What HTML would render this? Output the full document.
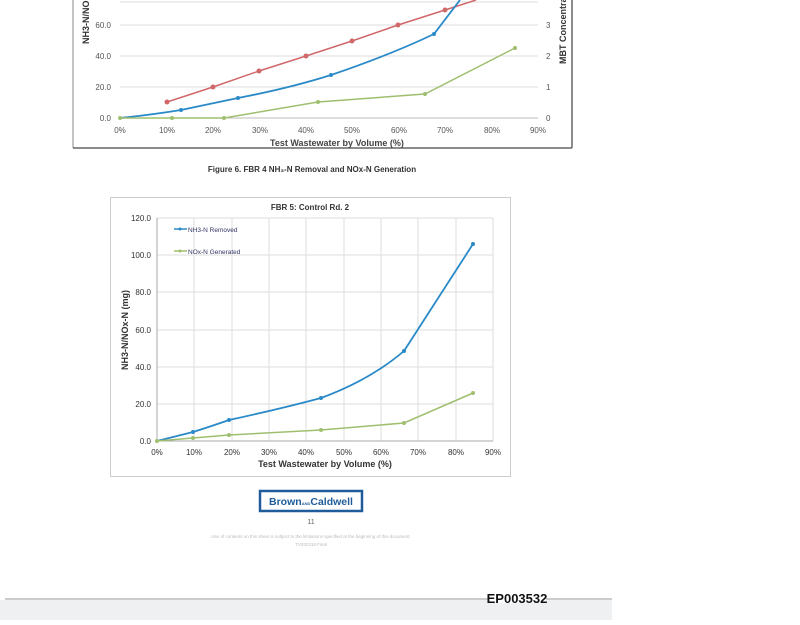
<!DOCTYPE html>
<html><head><meta charset="utf-8"><style>
body{margin:0;width:800px;height:620px;background:#fff;overflow:hidden;font-family:"Liberation Sans",sans-serif}
</style></head><body>
<svg width="800" height="620" viewBox="0 0 800 620" xmlns="http://www.w3.org/2000/svg" font-family="Liberation Sans, sans-serif">
<!-- Top chart -->
<g stroke="#ddd" stroke-width="1">
<line x1="120" y1="25" x2="538" y2="25"/><line x1="120" y1="56" x2="538" y2="56"/><line x1="120" y1="87" x2="538" y2="87"/><line x1="120" y1="2" x2="538" y2="2"/>
</g>
<line x1="120" y1="118" x2="538" y2="118" stroke="#bbb"/>
<line x1="73" y1="0" x2="73" y2="148" stroke="#888"/>
<line x1="572" y1="0" x2="572" y2="148" stroke="#666" stroke-width="1.5"/>
<line x1="73" y1="148" x2="572" y2="148" stroke="#666" stroke-width="1.5"/>
<g font-size="8" fill="#555" text-anchor="end">
<text x="111" y="121">0.0</text><text x="111" y="90">20.0</text><text x="111" y="59">40.0</text><text x="111" y="28">60.0</text>
</g>
<g font-size="8" fill="#555">
<text x="546" y="121">0</text><text x="546" y="90">1</text><text x="546" y="59">2</text><text x="546" y="28">3</text>
</g>
<g font-size="8" fill="#555" text-anchor="middle">
<text x="120" y="133">0%</text><text x="167" y="133">10%</text><text x="213" y="133">20%</text><text x="260" y="133">30%</text><text x="306" y="133">40%</text><text x="352" y="133">50%</text><text x="399" y="133">60%</text><text x="445" y="133">70%</text><text x="492" y="133">80%</text><text x="538" y="133">90%</text>
</g>
<text x="270" y="146" font-size="9" font-weight="bold" fill="#444">Test Wastewater by Volume (%)</text>
<text transform="translate(89,44) rotate(-90)" font-size="9" font-weight="bold" fill="#333">NH3-N/NO</text>
<text transform="translate(566,64) rotate(-90)" font-size="9" font-weight="bold" fill="#333">MBT Concentra</text>
<polyline fill="none" stroke="#d0686a" stroke-width="1.5" points="167,102 213,87 259,71 306,56 352,41 398,25 445,10 476,0"/>
<g fill="#d0686a"><circle cx="167" cy="102" r="2.5"/><circle cx="213" cy="87" r="2.5"/><circle cx="259" cy="71" r="2.5"/><circle cx="306" cy="56" r="2.5"/><circle cx="352" cy="41" r="2.5"/><circle cx="398" cy="25" r="2.5"/><circle cx="445" cy="10" r="2.5"/></g>
<path fill="none" stroke="#2a8ac8" stroke-width="1.8" d="M120,118 Q150,115 181,110 Q210,104 238,98 Q290,88 331,75 Q390,55 434,34 L460,0"/>
<g fill="#2a8ac8"><circle cx="181" cy="110" r="2"/><circle cx="238" cy="98" r="2"/><circle cx="331" cy="75" r="2"/><circle cx="434" cy="34" r="2"/></g>
<polyline fill="none" stroke="#9fbf6f" stroke-width="1.5" points="120,118 172,118 224,118 318,102 425,94 515,48"/>
<g fill="#9fbf6f"><circle cx="120" cy="118" r="2"/><circle cx="172" cy="118" r="2"/><circle cx="224" cy="118" r="2"/><circle cx="318" cy="102" r="2"/><circle cx="425" cy="94" r="2"/><circle cx="515" cy="48" r="2"/></g>
<text x="312" y="172" font-size="8" font-weight="bold" fill="#333" text-anchor="middle">Figure 6. FBR 4 NH₃-N Removal and NOx-N Generation</text>

<!-- Bottom chart -->
<rect x="110.5" y="197.5" width="400" height="279" fill="none" stroke="#ccc"/>
<g stroke="#ddd">
<line x1="157" y1="218" x2="493" y2="218"/><line x1="157" y1="255" x2="493" y2="255"/><line x1="157" y1="292" x2="493" y2="292"/><line x1="157" y1="330" x2="493" y2="330"/><line x1="157" y1="367" x2="493" y2="367"/><line x1="157" y1="404" x2="493" y2="404"/>
<line x1="194" y1="218" x2="194" y2="441"/><line x1="232" y1="218" x2="232" y2="441"/><line x1="269" y1="218" x2="269" y2="441"/><line x1="306" y1="218" x2="306" y2="441"/><line x1="344" y1="218" x2="344" y2="441"/><line x1="381" y1="218" x2="381" y2="441"/><line x1="418" y1="218" x2="418" y2="441"/><line x1="456" y1="218" x2="456" y2="441"/><line x1="493" y1="218" x2="493" y2="441"/>
</g>
<line x1="157" y1="441" x2="493" y2="441" stroke="#aaa"/>
<line x1="157" y1="218" x2="157" y2="441" stroke="#aaa"/>
<text x="310" y="210" font-size="8" font-weight="bold" fill="#333" text-anchor="middle">FBR 5: Control Rd. 2</text>
<g font-size="8" fill="#333" text-anchor="end">
<text x="151" y="221">120.0</text><text x="151" y="258">100.0</text><text x="151" y="295">80.0</text><text x="151" y="333">60.0</text><text x="151" y="370">40.0</text><text x="151" y="407">20.0</text><text x="151" y="444">0.0</text>
</g>
<g font-size="8" fill="#333" text-anchor="middle">
<text x="157" y="455">0%</text><text x="194" y="455">10%</text><text x="232" y="455">20%</text><text x="269" y="455">30%</text><text x="306" y="455">40%</text><text x="344" y="455">50%</text><text x="381" y="455">60%</text><text x="418" y="455">70%</text><text x="456" y="455">80%</text><text x="493" y="455">90%</text>
</g>
<text x="325" y="467" font-size="9" font-weight="bold" fill="#333" text-anchor="middle">Test Wastewater by Volume (%)</text>
<text transform="translate(128,330) rotate(-90)" font-size="9" font-weight="bold" fill="#333" text-anchor="middle">NH3-N/NOx-N (mg)</text>
<line x1="174" y1="229" x2="187" y2="229" stroke="#2a8ac8" stroke-width="1.5"/><circle cx="180" cy="229" r="1.5" fill="#2a8ac8"/>
<text x="188" y="232" font-size="6.5" fill="#336">NH3-N Removed</text>
<line x1="174" y1="251" x2="187" y2="251" stroke="#9fbf6f" stroke-width="1.5"/><circle cx="180" cy="251" r="1.5" fill="#9fbf6f"/>
<text x="188" y="254" font-size="6.5" fill="#336">NOx-N Generated</text>
<path fill="none" stroke="#2a8ac8" stroke-width="1.8" d="M157,441 L193,432 Q212,426 229,420 Q280,409 321,398 Q370,380 404,351 L473,244"/>
<g fill="#2a8ac8"><circle cx="193" cy="432" r="2"/><circle cx="229" cy="420" r="2"/><circle cx="321" cy="398" r="2"/><circle cx="404" cy="351" r="2"/><circle cx="473" cy="244" r="2"/></g>
<polyline fill="none" stroke="#9fbf6f" stroke-width="1.5" points="157,441 193,438 229,435 321,430 404,423 473,393"/>
<g fill="#9fbf6f"><circle cx="157" cy="441" r="2"/><circle cx="193" cy="438" r="2"/><circle cx="229" cy="435" r="2"/><circle cx="321" cy="430" r="2"/><circle cx="404" cy="423" r="2"/><circle cx="473" cy="393" r="2"/></g>

<!-- Footer -->
<rect x="260" y="491" width="102" height="20" fill="none" stroke="#1f5c99" stroke-width="2.5"/>
<text x="311" y="505" font-size="10.5" font-weight="bold" fill="#1f5c99" text-anchor="middle">Brown<tspan font-size="4">AND</tspan>Caldwell</text>
<text x="311" y="524" font-size="7" fill="#666" text-anchor="middle">11</text>
<text x="311" y="538" font-size="4.5" fill="#bbb" text-anchor="middle">Use of contents on this sheet is subject to the limitations specified at the beginning of this document.</text>
<text x="311" y="546" font-size="4.5" fill="#bbb" text-anchor="middle">TV032318 Final</text>
<rect x="0" y="600" width="612" height="20" fill="#eef0f2"/>
<line x1="5" y1="599" x2="612" y2="599" stroke="#999"/>
<rect x="488" y="591" width="58" height="12" fill="#fff"/>
<text x="517" y="603" font-size="13" font-weight="bold" fill="#111" text-anchor="middle">EP003532</text>
</svg>
</body></html>
